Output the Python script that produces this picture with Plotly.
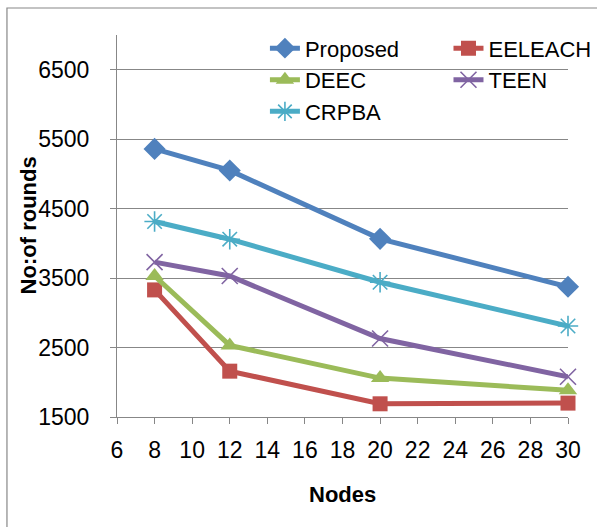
import plotly.graph_objects as go

nodes = [8, 12, 20, 30]
proposed = [5360, 5050, 4065, 3375]
eeleach = [3330, 2160, 1690, 1700]
deec = [3530, 2530, 2060, 1885]
teen = [3730, 3530, 2630, 2080]
crpba = [4315, 4060, 3440, 2810]

x_ticks = list(range(6, 31, 2))
y_ticks = [1500, 2500, 3500, 4500, 5500, 6500]

FONT = "Liberation Sans"
GRID = "#878787"

series = [
    ("Proposed", proposed, "#4F81BD", dict(symbol="diamond", size=17), "legend"),
    ("EELEACH", eeleach, "#C0504D", dict(symbol="square", size=15), "legend2"),
    ("DEEC", deec, "#9BBB59", dict(symbol="triangle-up", size=16), "legend"),
    ("TEEN", teen, "#8064A2", dict(symbol="x-thin-open", size=16), "legend2"),
    ("CRPBA", crpba, "#4BACC6", dict(symbol="asterisk-open", size=17), "legend"),
]

fig = go.Figure()
for name, vals, color, mk, lg in series:
    marker = dict(color=color, **mk)
    if "open" in mk["symbol"]:
        marker["line"] = dict(color=color, width=1.6)
    fig.add_trace(go.Scatter(
        x=nodes, y=vals, name=name, mode="lines+markers",
        line=dict(color=color, width=5),
        marker=marker, cliponaxis=False, legend=lg,
    ))

fig.update_layout(
    width=597, height=527,
    margin=dict(l=117, r=29, t=35, b=110, autoexpand=False),
    paper_bgcolor="white", plot_bgcolor="white",
    font=dict(family=FONT, size=23, color="black"),
    showlegend=True,
    legend=dict(x=0.328, y=1.02, xanchor="left", yanchor="top",
                bgcolor="rgba(0,0,0,0)", font=dict(size=22),
                tracegroupgap=0, itemwidth=30),
    legend2=dict(x=0.735, y=1.02, xanchor="left", yanchor="top",
                 bgcolor="rgba(0,0,0,0)", font=dict(size=22),
                 tracegroupgap=0, itemwidth=30),
    xaxis=dict(range=[6, 30], tickvals=x_ticks, ticktext=[str(v) for v in x_ticks],
               showgrid=False, showline=True, linecolor=GRID, linewidth=1,
               ticks="outside", ticklen=6, tickcolor=GRID, zeroline=False,
               tickfont=dict(size=23), ticklabelstandoff=6),
    yaxis=dict(range=[1500, 7000], tickvals=y_ticks, ticktext=[str(v) for v in y_ticks],
               showgrid=True, gridcolor=GRID, gridwidth=1,
               showline=True, linecolor=GRID, linewidth=1,
               ticks="outside", ticklen=6, tickcolor=GRID, zeroline=False,
               tickfont=dict(size=23), ticklabelstandoff=16),
    annotations=[
        dict(text="<b>Nodes</b>", xref="paper", yref="paper", x=0.5, y=-0.202,
             xanchor="center", yanchor="middle", showarrow=False,
             font=dict(size=22, family=FONT)),
        dict(text="<b>No:of rounds</b>", xref="paper", yref="paper", x=-0.197, y=0.502,
             xanchor="center", yanchor="middle", showarrow=False, textangle=-90,
             font=dict(size=22, family=FONT)),
    ],
    shapes=[
        dict(type="rect", xref="paper", yref="paper", x0=-0.244, x1=2.0,
             y0=-0.6, y1=1.0707, line=dict(color="#888888", width=1.2),
             fillcolor="rgba(0,0,0,0)", layer="below"),
    ],
)

fig.write_html("out.html", config={"displayModeBar": False},
               post_script="document.body.style.margin='0';")
